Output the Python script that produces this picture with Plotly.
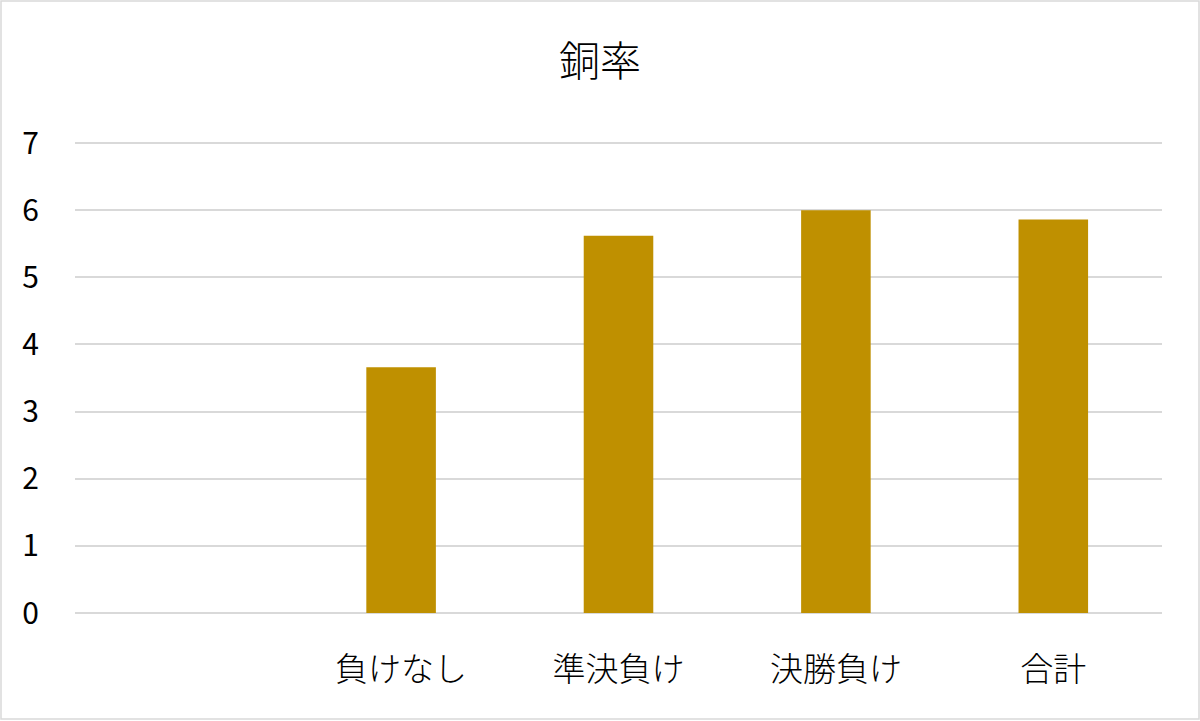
import plotly.graph_objects as go

# Categories (first slot intentionally blank) and copper-rate values
categories = [" ", "負けなし", "準決負け", "決勝負け", "合計"]
copper_rate = [None, 3.66, 5.62, 6.0, 5.86]
y_ticks = [0, 1, 2, 3, 4, 5, 6, 7]
y_max = 7.06  # a little headroom so the top gridline at 7 is drawn

W, H = 1200, 721
L, R, T, B = 75, 38, 139, 108
pw, ph = W - L - R, H - T - B

fig = go.Figure(
    go.Bar(
        x=categories,
        y=copper_rate,
        marker=dict(color="#BF9000", line=dict(width=0)),
        width=0.32,
    )
)

font_family = "Noto Sans CJK JP, Noto Sans, sans-serif"

fig.update_layout(
    width=W,
    height=H,
    margin=dict(l=L, r=R, t=T, b=B, pad=0),
    paper_bgcolor="white",
    plot_bgcolor="white",
    showlegend=False,
    font=dict(family=font_family, color="#000000"),
    title=dict(
        text="銅率",
        x=0.5,
        xanchor="center",
        y=1 - 62 / H,
        yanchor="middle",
        font=dict(size=41, family=font_family, color="#000000", weight=300),
    ),
    xaxis=dict(
        type="category",
        categoryorder="array",
        categoryarray=categories,
        range=[-0.5, 4.5],
        showgrid=False,
        showline=False,
        zeroline=False,
        ticks="outside",
        ticklen=27,
        tickcolor="rgba(0,0,0,0)",
        tickfont=dict(size=33, family=font_family, color="#000000", weight=300),
    ),
    yaxis=dict(
        range=[0, y_max],
        tickvals=y_ticks,
        showgrid=True,
        gridcolor="#d9d9d9",
        gridwidth=1.5,
        zeroline=True,
        zerolinecolor="#d9d9d9",
        zerolinewidth=1.5,
        showline=False,
        ticks="outside",
        ticklen=29,
        tickcolor="rgba(0,0,0,0)",
        tickfont=dict(size=30, family=font_family, color="#000000"),
    ),
    shapes=[
        dict(
            type="rect",
            xref="paper",
            yref="paper",
            x0=(1 - L) / pw,
            x1=(W - 1 - L) / pw,
            y0=(T + ph - (H - 2)) / ph,
            y1=(T + ph - 1) / ph,
            line=dict(color="#d9d9d9", width=1.5),
            fillcolor="rgba(0,0,0,0)",
            layer="below",
        )
    ],
)

fig.write_html("out.html")
